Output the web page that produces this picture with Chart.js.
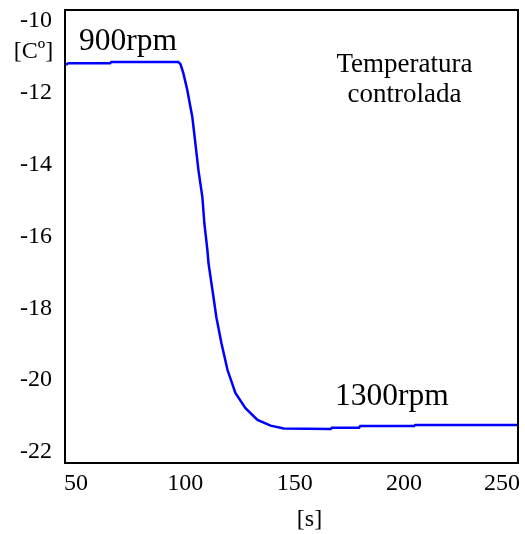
<!DOCTYPE html>
<html>
<head>
<meta charset="utf-8">
<script src="https://cdn.jsdelivr.net/npm/chart.js@4.4.0/dist/chart.umd.min.js"></script>
<style>
  body { margin: 0; background: #fff; }
  canvas { display: block; }
</style>
</head>
<body>
<canvas id="myChart" width="525" height="534"></canvas>
<script>
// time in seconds
const timeS = [45, 45.9, 46.5, 65.6, 66.2, 96.8, 97.8, 99.1, 100.9, 103.2, 104.6, 106.0, 107.8,
  108.7, 110.1, 110.6, 112.4, 114.2, 116.5, 119.3, 122.9, 127.5, 133.0, 139.0, 145.0,
  166.5, 167.0, 179.4, 180.0, 204.6, 205.2, 252.1];
// temperature [C]
const tempC = [-11.20, -11.20, -11.17, -11.17, -11.14, -11.14, -11.2, -11.45, -11.92, -12.67, -13.40, -14.15, -14.90,
  -15.63, -16.38, -16.74, -17.49, -18.25, -18.97, -19.72, -20.36, -20.78, -21.11, -21.27, -21.35,
  -21.36, -21.33, -21.33, -21.28, -21.28, -21.25, -21.25];

const xTicks = [50, 100, 150, 200, 250];
const xRange = [45, 252.1];
const yRange = [-22.31, -9.69];

const serif = "'Liberation Serif', 'Times New Roman', serif";

let points = timeS.map((t, i) => ({ x: t, y: tempC[i] }));

// frame, x tick labels and the text notes
const extras = {
  id: 'extras',
  afterDraw(chart) {
    const ctx = chart.ctx;
    const a = chart.chartArea;
    ctx.save();
    ctx.strokeStyle = '#000';
    ctx.lineWidth = 2;
    ctx.strokeRect(a.left, a.top, a.right - a.left, a.bottom - a.top);

    ctx.fillStyle = '#000';
    ctx.font = '24px ' + serif;
    ctx.textBaseline = 'alphabetic';
    ctx.textAlign = 'center';
    let xs = chart.scales.x;
    xTicks.forEach(v => {
      let px = xs.getPixelForValue(v);
      let w = ctx.measureText(String(v)).width;
      if (px + w / 2 > chart.width - 5) px = chart.width - 5 - w / 2;
      ctx.fillText(String(v), px, 490);
    });

    ctx.fillText('[Cº]', 33.5, 58);
    ctx.fillText('[s]', 309.5, 526);

    ctx.font = '31.5px ' + serif;
    ctx.textAlign = 'left';
    ctx.fillText('900rpm', 79, 50);
    ctx.fillText('1300rpm', 335, 405);

    ctx.font = '27px ' + serif;
    ctx.textAlign = 'center';
    ctx.fillText('Temperatura', 404.5, 72);
    ctx.fillText('controlada', 404.5, 102);
    ctx.restore();
  }
};

let ctx = document.getElementById('myChart');

let myChart = new Chart(ctx, {
  type: 'line',
  data: {
    datasets: [{
      data: points,
      borderColor: '#0000ff',
      borderWidth: 2.5,
      pointRadius: 0,
      tension: 0,
      fill: false
    }]
  },
  options: {
    responsive: false,
    animation: false,
    layout: { padding: { top: 10, right: 7, left: 0, bottom: 0 } },
    plugins: { legend: { display: false }, tooltip: { enabled: false } },
    scales: {
      x: {
        type: 'linear',
        min: xRange[0],
        max: xRange[1],
        grid: { display: false, drawTicks: false },
        border: { display: false },
        ticks: { display: false, stepSize: 50, includeBounds: false },
        afterFit: (s) => { s.height = 71; s.paddingLeft = 0; s.paddingRight = 0; }
      },
      y: {
        min: yRange[0],
        max: yRange[1],
        grid: { display: false, drawTicks: false },
        border: { display: false },
        ticks: {
          stepSize: 2,
          includeBounds: false,
          padding: 13,
          color: '#000',
          font: { family: serif, size: 24 }
        },
        afterFit: (s) => { s.width = 65; s.paddingTop = 0; s.paddingBottom = 0; }
      }
    }
  },
  plugins: [extras]
});
</script>
</body>
</html>
